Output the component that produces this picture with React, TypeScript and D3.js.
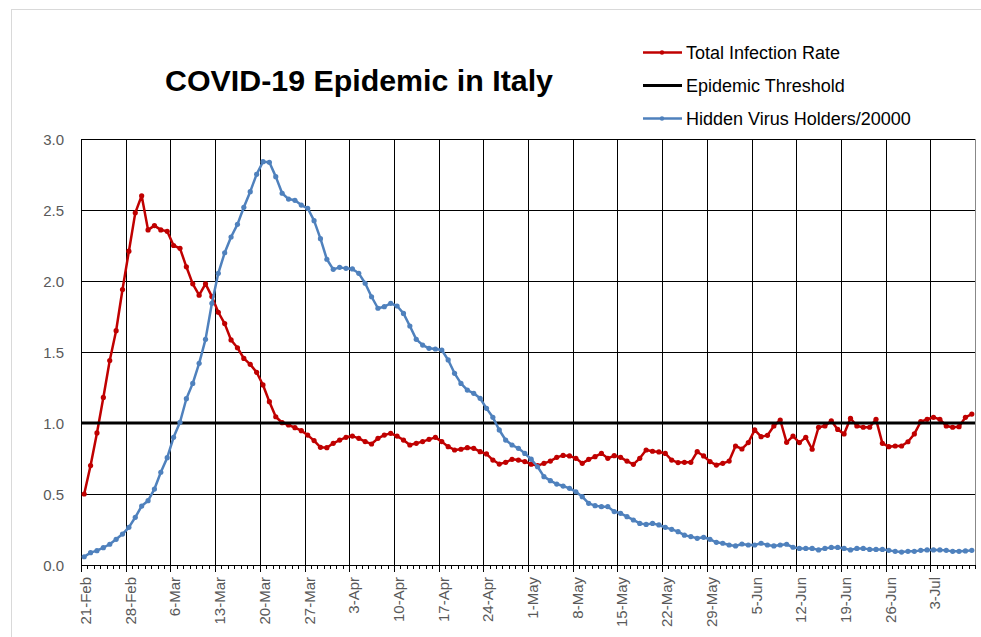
import React from "react";
import * as d3 from "d3";

const weekLabels = ["21-Feb","28-Feb","6-Mar","13-Mar","20-Mar","27-Mar","3-Apr","10-Apr","17-Apr","24-Apr","1-May","8-May","15-May","22-May","29-May","5-Jun","12-Jun","19-Jun","26-Jun","3-Jul"];
const yTicks = [0, 0.5, 1.0, 1.5, 2.0, 2.5, 3.0];
const dayCount = 140;

const totalInfectionRate = [
  0.50,0.70,0.93,1.18,1.44,1.65,1.94,2.21,2.48,2.60,
  2.36,2.39,2.36,2.35,2.25,2.23,2.10,1.98,1.90,1.98,
  1.89,1.78,1.70,1.585,1.53,1.455,1.413,1.357,1.268,1.15,
  1.044,1.002,0.986,0.967,0.946,0.915,0.876,0.829,0.826,0.857,
  0.880,0.899,0.908,0.892,0.869,0.852,0.892,0.915,0.927,0.908,
  0.880,0.845,0.857,0.869,0.885,0.899,0.869,0.833,0.810,0.815,
  0.826,0.822,0.798,0.782,0.739,0.711,0.723,0.744,0.739,0.728,
  0.71,0.70,0.716,0.732,0.758,0.772,0.768,0.751,0.716,0.744,
  0.763,0.786,0.751,0.770,0.758,0.732,0.709,0.751,0.810,0.801,
  0.796,0.786,0.739,0.721,0.723,0.723,0.798,0.768,0.728,0.704,
  0.716,0.732,0.838,0.817,0.862,0.951,0.904,0.913,0.979,1.021,
  0.864,0.908,0.862,0.899,0.815,0.970,0.979,1.016,0.955,0.923,
  1.033,0.979,0.970,0.970,1.026,0.857,0.833,0.838,0.838,0.868,
  0.923,1.009,1.026,1.040,1.026,0.979,0.970,0.974,1.040,1.063
];

const hiddenVirusHolders = [
  0.058,0.087,0.101,0.122,0.146,0.181,0.218,0.265,0.336,0.415,
  0.453,0.535,0.653,0.756,0.899,1.005,1.171,1.279,1.420,1.589,
  1.843,2.054,2.199,2.31,2.399,2.519,2.629,2.751,2.840,2.836,
  2.735,2.618,2.577,2.568,2.535,2.512,2.425,2.298,2.153,2.082,
  2.096,2.089,2.085,2.054,1.984,1.889,1.808,1.819,1.843,1.824,
  1.772,1.683,1.589,1.549,1.526,1.521,1.514,1.444,1.350,1.279,
  1.232,1.209,1.174,1.103,1.040,0.951,0.880,0.845,0.822,0.786,
  0.745,0.692,0.622,0.594,0.570,0.556,0.540,0.516,0.481,0.434,
  0.418,0.411,0.411,0.376,0.364,0.340,0.317,0.293,0.286,0.293,
  0.282,0.265,0.251,0.235,0.21,0.200,0.188,0.195,0.181,0.160,
  0.153,0.141,0.134,0.148,0.141,0.141,0.153,0.141,0.134,0.141,
  0.146,0.125,0.117,0.117,0.117,0.106,0.117,0.124,0.124,0.117,
  0.106,0.117,0.117,0.110,0.110,0.110,0.103,0.096,0.091,0.096,
  0.096,0.103,0.106,0.106,0.106,0.103,0.096,0.096,0.099,0.103
];

const epidemicThreshold = 1.0;

const RED = "#C00000";
const BLUE = "#4F81BD";

export default function App() {
  const W = 981, H = 637;
  const left = 81, right = 975, top = 139, bottom = 565;
  const x = d3.scaleLinear().domain([0, dayCount]).range([left, right]);
  const y = d3.scaleLinear().domain([0, 3]).range([bottom, top]);
  const line = d3.line<number>().x((_, i) => x(i + 0.5)).y((d) => y(d));
  const font = "'Liberation Sans', Arial, sans-serif";
  const days = d3.range(dayCount + 1);

  const legend = [
    { label: "Total Infection Rate", color: RED, marker: true, w: 2.5 },
    { label: "Epidemic Threshold", color: "#000", marker: false, w: 3 },
    { label: "Hidden Virus Holders/20000", color: BLUE, marker: true, w: 2.5 },
  ];
  const legendY = [52.5, 85.5, 118.5];

  return (
    <div style={{ position: "fixed", left: 0, top: 0, width: W, height: H, background: "#fff" }}>
      <svg width={W} height={H} style={{ display: "block" }} fontFamily={font}>
        <rect x={0} y={0} width={W} height={H} fill="#fff" />
        <rect x={11.5} y={9.5} width={W + 10} height={H + 10} fill="none" stroke="#d9d9d9" />
        <text x={359} y={91} textAnchor="middle" fontSize={29} fontWeight="bold" fill="#000" textLength={388} lengthAdjust="spacingAndGlyphs">COVID-19 Epidemic in Italy</text>

        {/* horizontal gridlines */}
        {yTicks.map((t) => (
          <line key={"h" + t} x1={left} x2={right} y1={Math.round(y(t)) + 0.5} y2={Math.round(y(t)) + 0.5} stroke="#000" strokeWidth={1} />
        ))}
        {/* vertical gridlines */}
        {weekLabels.map((lb, k) => (
          <line key={"v" + lb} x1={Math.round(x(k * 7)) + 0.5} x2={Math.round(x(k * 7)) + 0.5} y1={top} y2={bottom + 7} stroke="#000" strokeWidth={1} />
        ))}
        <line x1={right + 0.5} x2={right + 0.5} y1={top} y2={bottom} stroke="#888" strokeWidth={1} />
        {/* minor ticks */}
        {days.map((d) => (
          <line key={"m" + d} x1={Math.round(x(d)) + 0.5} x2={Math.round(x(d)) + 0.5} y1={bottom} y2={bottom + 4} stroke="#000" strokeWidth={1} />
        ))}
        <line x1={left} x2={right} y1={bottom + 0.5} y2={bottom + 0.5} stroke="#000" strokeWidth={1.2} />

        {/* y labels */}
        {yTicks.map((t) => (
          <text key={"yl" + t} x={64} y={y(t) + 5.5} textAnchor="end" fontSize={15} fill="#595959">{t.toFixed(1)}</text>
        ))}
        {/* x labels */}
        {weekLabels.map((lb, k) => (
          <text key={"xl" + lb} transform={`translate(${x(k * 7) + 10},${bottom + 12}) rotate(-90)`} textAnchor="end" fontSize={15} fill="#595959">{lb}</text>
        ))}

        {/* series */}
        <path d={line(totalInfectionRate) || ""} fill="none" stroke={RED} strokeWidth={2.5} strokeLinejoin="round" />
        {totalInfectionRate.map((v, i) => (
          <circle key={"r" + i} cx={x(i + 0.5)} cy={y(v)} r={2.6} fill={RED} />
        ))}
        <line x1={left} x2={right} y1={y(epidemicThreshold)} y2={y(epidemicThreshold)} stroke="#000" strokeWidth={3} />
        <path d={line(hiddenVirusHolders) || ""} fill="none" stroke={BLUE} strokeWidth={2.5} strokeLinejoin="round" />
        {hiddenVirusHolders.map((v, i) => (
          <circle key={"b" + i} cx={x(i + 0.5)} cy={y(v)} r={2.6} fill={BLUE} />
        ))}

        {/* legend */}
        {legend.map((l, k) => (
          <g key={"lg" + k}>
            <line x1={643} x2={682} y1={legendY[k]} y2={legendY[k]} stroke={l.color} strokeWidth={l.w} />
            {l.marker && <circle cx={662} cy={legendY[k]} r={2.2} fill={l.color} />}
            <text x={686} y={legendY[k] + 6.4} fontSize={18} fill="#000">{l.label}</text>
          </g>
        ))}
      </svg>
    </div>
  );
}
